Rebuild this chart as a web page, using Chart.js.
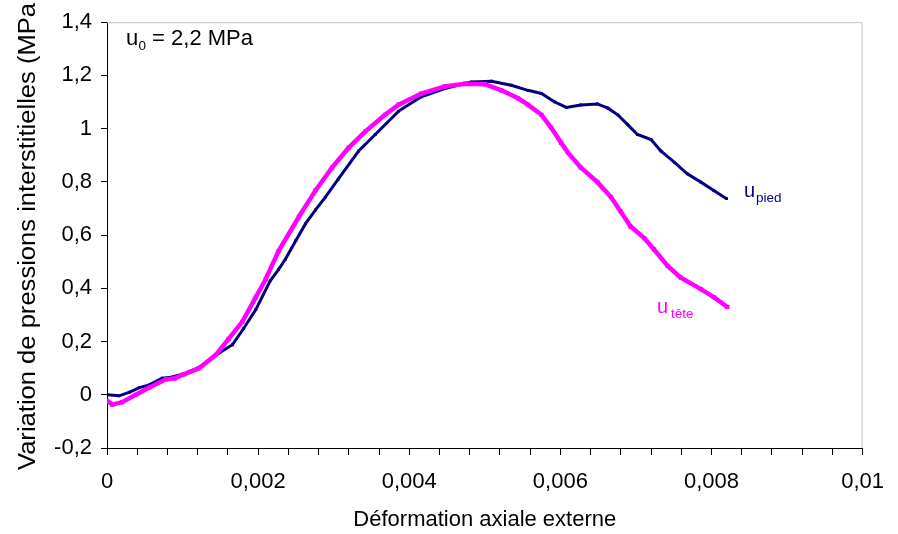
<!DOCTYPE html>
<html>
<head>
<meta charset="utf-8">
<script src="https://cdn.jsdelivr.net/npm/chart.js@4/dist/chart.umd.min.js"></script>
<style>
  html, body { margin: 0; padding: 0; background: #fff; }
  #wrap { width: 898px; height: 534px; }
</style>
</head>
<body>
<div id="wrap"><canvas id="chart" width="898" height="534"></canvas></div>
<script>
// u pied (navy) - déformation / variation de pression
const piedX = [0, 0.00016, 0.0003, 0.00043, 0.00056, 0.00073, 0.00085, 0.001, 0.0012, 0.00139, 0.0015, 0.00166, 0.00181, 0.00197,
  0.00216, 0.00227, 0.00236, 0.0025, 0.00263, 0.00276, 0.00289, 0.00306, 0.00333, 0.00355, 0.00386, 0.00416, 0.00447, 0.00482,
  0.00509, 0.00535, 0.00557, 0.00575, 0.00592, 0.00608, 0.00627, 0.00649, 0.00663, 0.00676, 0.00689, 0.00702, 0.0072, 0.00733,
  0.00751, 0.00768, 0.00786, 0.00803, 0.0082];
const piedY = [0, -0.004, 0.01, 0.027, 0.037, 0.062, 0.066, 0.077, 0.1, 0.138, 0.16, 0.188, 0.25, 0.32,
  0.428, 0.47, 0.509, 0.58, 0.644, 0.695, 0.743, 0.81, 0.916, 0.978, 1.066, 1.12, 1.151, 1.175,
  1.178, 1.163, 1.144, 1.132, 1.101, 1.08, 1.089, 1.093, 1.077, 1.052, 1.015, 0.978, 0.959, 0.916,
  0.873, 0.83, 0.799, 0.768, 0.737];

// u tête (magenta)
const teteX = [0, 0.00007, 0.0002, 0.00038, 0.00056, 0.00078, 0.0009, 0.001, 0.00122, 0.00144, 0.00161, 0.00179, 0.00197, 0.0021,
  0.00227, 0.00254, 0.00276, 0.00298, 0.0032, 0.00342, 0.00368, 0.00386, 0.00416, 0.00447, 0.00474, 0.005, 0.00522, 0.00544,
  0.00557, 0.00575, 0.00588, 0.00601, 0.0061, 0.00627, 0.00649, 0.00667, 0.0068, 0.00693, 0.00711, 0.00724, 0.00742, 0.00759,
  0.00786, 0.00803, 0.00821];
const teteY = [-0.022, -0.037, -0.028, 0, 0.027, 0.058, 0.062, 0.075, 0.1, 0.15, 0.21, 0.274, 0.367, 0.434,
  0.54, 0.669, 0.768, 0.854, 0.929, 0.99, 1.052, 1.09, 1.132, 1.159, 1.169, 1.167, 1.144, 1.114,
  1.09, 1.052, 1.003, 0.947, 0.91, 0.854, 0.799, 0.743, 0.688, 0.632, 0.589, 0.546, 0.484, 0.441,
  0.397, 0.367, 0.33];

const xMin = 0, xMax = 0.01, xStep = 0.0004, xMajor = 0.002;
const yMin = -0.2, yMax = 1.4, yStep = 0.2;

const NAVY = '#000080';
const MAGENTA = '#ff00ff';
const FONT = "'Liberation Sans', Arial, sans-serif";
const Y_TITLE = 'Variation de pressions interstitielles (MPa';

function toPts(xs, ys) {
  return xs.map((x, i) => ({x: x, y: ys[i]}));
}
function fr(v, d) {
  return String(+v.toFixed(d)).replace('.', ',');
}

// cadre gris, titre vertical, étiquettes
const extras = {
  id: 'extras',
  afterDatasetsDraw(chart) {
    const ctx = chart.ctx;
    const a = chart.chartArea;
    ctx.save();
    ctx.strokeStyle = '#c0c0c0';
    ctx.lineWidth = 1;
    ctx.beginPath();
    ctx.moveTo(a.left, a.top + 0.5);
    ctx.lineTo(a.right - 0.5, a.top + 0.5);
    ctx.lineTo(a.right - 0.5, a.bottom);
    ctx.stroke();

    // titre axe y (étiré comme l'original)
    ctx.save();
    ctx.fillStyle = '#000';
    ctx.font = '23px ' + FONT;
    ctx.textAlign = 'left';
    ctx.textBaseline = 'alphabetic';
    const w = ctx.measureText(Y_TITLE).width;
    ctx.translate(35, 470);
    ctx.rotate(-Math.PI / 2);
    ctx.scale(467 / w, 1);
    ctx.fillText(Y_TITLE, 0, 0);
    ctx.restore();

    ctx.textBaseline = 'alphabetic';
    ctx.textAlign = 'left';
    // u0 = 2,2 MPa
    ctx.fillStyle = '#000';
    ctx.font = '22px ' + FONT;
    ctx.fillText('u', 126, 45);
    ctx.font = '13.5px ' + FONT;
    ctx.fillText('0', 138.5, 49.5);
    ctx.font = '22px ' + FONT;
    ctx.fillText(' = 2,2 MPa', 146, 45);

    // u pied
    ctx.fillStyle = NAVY;
    ctx.font = '20px ' + FONT;
    ctx.fillText('u', 744, 197);
    ctx.font = '13.5px ' + FONT;
    ctx.fillText('pied', 756, 202);

    // u tête
    ctx.fillStyle = MAGENTA;
    ctx.font = '20px ' + FONT;
    ctx.fillText('u', 657, 313);
    ctx.font = '13.5px ' + FONT;
    ctx.fillText('tête', 671, 318);
    ctx.restore();
  }
};

Chart.defaults.font.family = FONT;
Chart.defaults.color = '#000';

new Chart(document.getElementById('chart'), {
  type: 'scatter',
  data: {
    datasets: [
      {
        label: 'u tête',
        data: toPts(teteX, teteY),
        showLine: true,
        borderColor: MAGENTA,
        backgroundColor: MAGENTA,
        borderWidth: 4.5,
        pointStyle: 'rect',
        pointRadius: 3,
        pointBorderWidth: 0,
        tension: 0
      },
      {
        label: 'u pied',
        data: toPts(piedX, piedY),
        showLine: true,
        borderColor: NAVY,
        backgroundColor: NAVY,
        borderWidth: 3,
        pointStyle: 'rect',
        pointRadius: 2,
        pointBorderWidth: 0,
        tension: 0
      }
    ]
  },
  options: {
    responsive: false,
    animation: false,
    layout: { padding: { top: 16, right: 32, left: 0, bottom: 0 } },
    plugins: { legend: { display: false }, tooltip: { enabled: false } },
    scales: {
      x: {
        type: 'linear',
        min: xMin, max: xMax,
        afterFit: s => { s.height = 86; },
        border: { color: '#000', width: 1 },
        grid: { drawOnChartArea: false, drawTicks: true, tickLength: 7, color: '#000' },
        ticks: {
          stepSize: xStep,
          autoSkip: false,
          maxRotation: 0,
          padding: 14,
          font: { size: 22 },
          callback: v => {
            const r = v / xMajor;
            if (Math.abs(r - Math.round(r)) > 1e-6) return '';
            return v === 0 ? '0' : fr(v, 3);
          }
        },
        title: {
          display: true,
          text: 'Déformation axiale externe',
          font: { size: 22 },
          padding: { top: 0, bottom: 1 }
        }
      },
      y: {
        min: yMin, max: yMax,
        afterFit: s => { s.width = 107; },
        border: { color: '#000', width: 1 },
        grid: { drawOnChartArea: false, drawTicks: true, tickLength: 6, color: '#000' },
        ticks: {
          stepSize: yStep,
          padding: 9,
          font: { size: 22 },
          callback: v => fr(v, 1)
        }
      }
    }
  },
  plugins: [extras]
});
</script>
</body>
</html>
